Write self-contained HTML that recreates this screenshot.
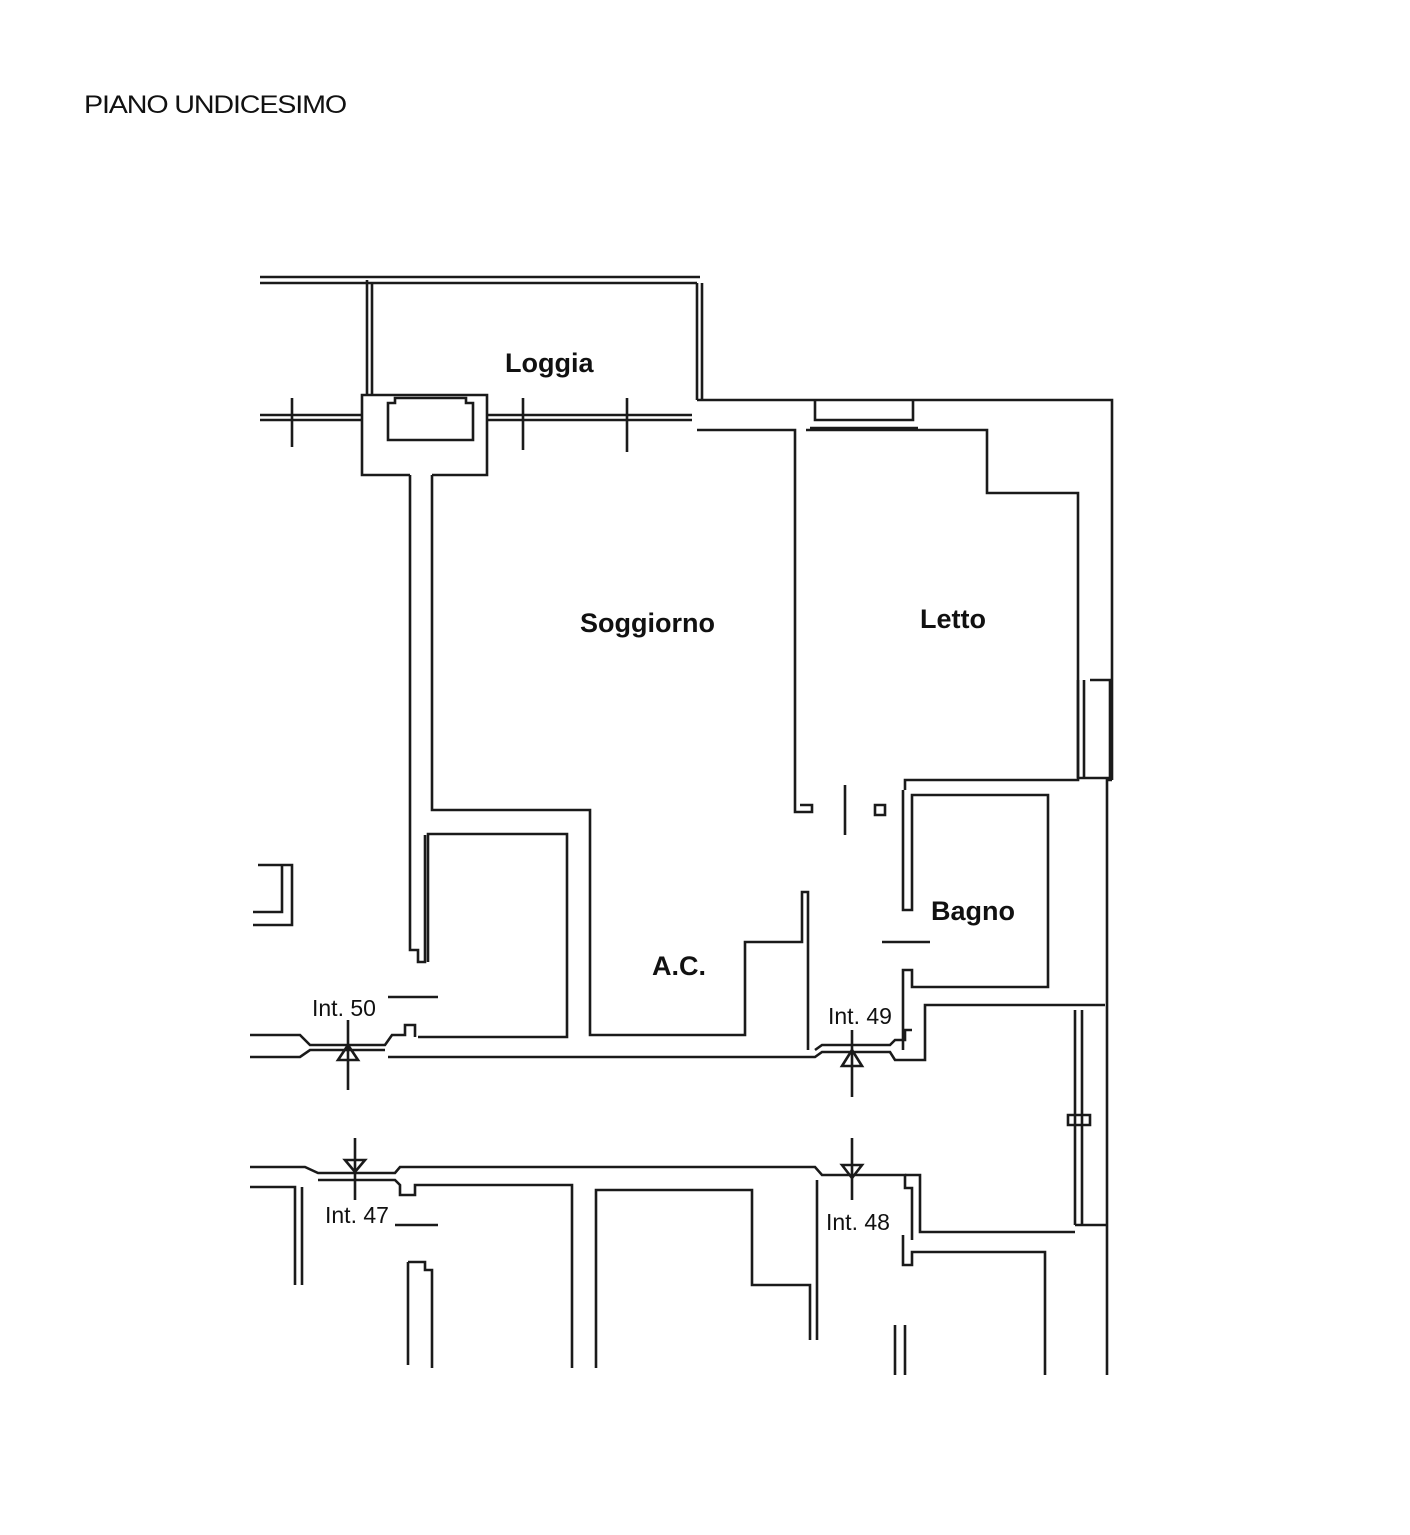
<!DOCTYPE html>
<html><head><meta charset="utf-8"><style>
html,body{margin:0;padding:0;background:#fff;}
svg{display:block}
text{font-family:"Liberation Sans",sans-serif;fill:#111}
</style></head><body>
<svg width="1410" height="1535" viewBox="0 0 1410 1535" xmlns="http://www.w3.org/2000/svg">
<text x="84" y="113" font-size="25" letter-spacing="-1" textLength="262" lengthAdjust="spacingAndGlyphs">PIANO UNDICESIMO</text>
<g fill="none" stroke="#1a1a1a" stroke-width="2.6" stroke-linejoin="miter">
<!-- loggia -->
<path d="M260 277 H700 M260 283 H697"/>
<path d="M367 280 V395 M372 283 V395"/>
<path d="M697 283 V400 M702 283 V400"/>
<path d="M260 415 H362 M260 420 H362 M487 415 H692 M487 420 H692"/>
<path d="M292 398 V447 M523 398 V450 M627 398 V452"/>
<!-- pillar -->
<path d="M432 475 H487 V395 H362 V475 H410"/>
<path d="M388 440 H473 V403 H466 V398 H395 V403 H388 Z"/>
<!-- soggiorno walls -->
<path d="M410 475 V950 H418 V962 H425 V835"/>
<path d="M432 475 V810 H590 V1035 H745 V942 H802 V892 H808 V1050"/>
<path d="M428 962 V834 H567 V1037 H418"/>
<!-- top right -->
<path d="M697 400 H1112 V780"/>
<path d="M697 430 H795 V812 H812 V805 H800"/>
<path d="M806 430 H987 V493 H1078 V780 H905 V790"/>
<path d="M815 400 V420 H913 V400 M810 428 H918"/>
<path d="M1078 680 V778 M1084 680 V778 M1090 680 H1110 V778 H1078"/>
<path d="M845 785 V835"/>
<!-- bagno -->
<path d="M875 805 H885 V815 H875 Z"/>
<path d="M903 790 V910 H912 V795 H1048 V987 H912 V970 H903 V1050"/>
<path d="M882 942 H930"/>
<path d="M1112 780 H1107 V1375"/>
<!-- corridor top -->
<path d="M250 1035 H300 L310 1045 H385 L392 1035 H405 V1025 H415 V1037"/>
<path d="M250 1057 H300 L310 1050 H385"/>
<path d="M388 1057 H815 L822 1052 H890 L895 1060 H925 V1005 H1075"/>
<path d="M815 1050 L822 1045 H890 L895 1040 H905 V1030 H912"/>
<path d="M388 997 H438"/>
<!-- door symbols -->
<path d="M348 1020 V1090 M852 1030 V1097 M355 1138 V1200 M852 1138 V1200"/>
<path d="M338 1060 L348 1045 L358 1060 Z M842 1066 L852 1050 L862 1066 Z"/>
<path d="M345 1160 L355 1172 L365 1160 Z M842 1165 L852 1178 L862 1165 Z"/>
<!-- corridor bottom -->
<path d="M250 1167 H305 L318 1173 H395 L400 1167 H815 L822 1175 H905 V1188 H912 V1240"/>
<path d="M250 1187 H295 V1285 M302 1187 V1285 M318 1180 H395 L400 1185 V1195 H415 V1185 H572 V1368"/>
<path d="M395 1225 H438 M596 1368 V1190 H752 V1285 H810 V1340 M817 1180 V1340"/>
<path d="M1075 1005 H1105 M1075 1010 V1225 M1082 1010 V1225 M1068 1115 H1090 V1125 H1068 Z M1075 1225 H1107"/>
<path d="M905 1175 H920 V1232 H1075"/>
<path d="M903 1235 V1265 H912 V1252 H1045 V1375"/>
<path d="M408 1262 V1365 M408 1262 H425 V1270 H432 V1368"/>
<path d="M895 1325 V1375 M905 1325 V1375"/>
<path d="M258 865 H292 V925 H253 M253 912 H282 V865"/>
</g>
<g font-size="27" style="font-weight:bold" fill="#111">
<text x="505" y="372">Loggia</text>
<text x="580" y="632">Soggiorno</text>
<text x="920" y="628">Letto</text>
<text x="931" y="920">Bagno</text>
<text x="652" y="975">A.C.</text>
</g>
<g font-size="23">
<text x="312" y="1016">Int. 50</text>
<text x="828" y="1024">Int. 49</text>
<text x="325" y="1223">Int. 47</text>
<text x="826" y="1230">Int. 48</text>
</g>
</svg>
</body></html>
